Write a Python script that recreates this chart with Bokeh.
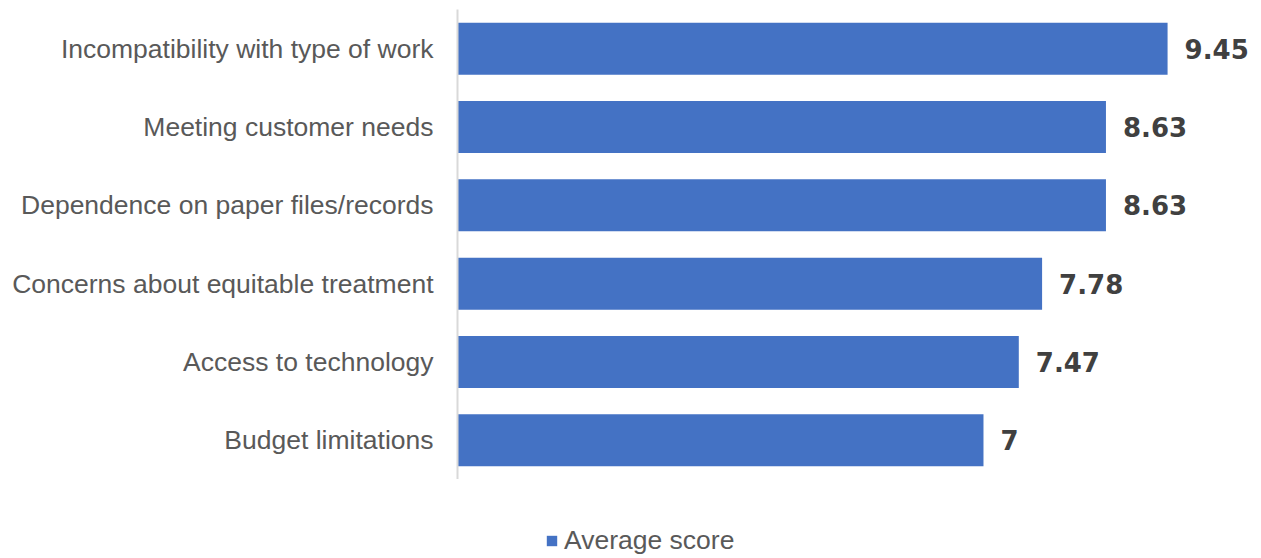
from bokeh.plotting import figure
from bokeh.layouts import column
from bokeh.models import ColumnDataSource, FactorRange, Range1d, Legend, LegendItem
from bokeh.core.properties import value
from bokeh.embed import file_html
from bokeh.resources import INLINE

categories = [
    "Incompatibility with type of work",
    "Meeting customer needs",
    "Dependence on paper files/records",
    "Concerns about equitable treatment",
    "Access to technology",
    "Budget limitations",
]
scores = [9.45, 8.63, 8.63, 7.78, 7.47, 7]
score_labels = ["9.45", "8.63", "8.63", "7.78", "7.47", "7"]
series_name = "Average score"

BAR = "#4472C4"
src = ColumnDataSource(dict(cat=categories, val=scores, lab=score_labels))

p = figure(
    width=1261, height=479,
    y_range=FactorRange(factors=list(reversed(categories)), range_padding=0),
    x_range=Range1d(0, 10.7),
    output_backend="svg", toolbar_location=None,
    min_border_left=457, min_border_right=0, min_border_top=9, min_border_bottom=0,
)
p.outline_line_color = None
p.xgrid.visible = False
p.ygrid.visible = False
p.xaxis.visible = False

p.hbar(y="cat", right="val", left=0, height=0.664, source=src,
       fill_color=BAR, line_color=None)

p.text(x="val", y="cat", text="lab", source=src, x_offset=17,
       text_baseline="middle", text_align="left",
       text_font=value("DejaVu Sans"), text_font_style="bold",
       text_font_size="26px", text_color="#404040")

ya = p.yaxis[0]
ya.axis_line_color = "#d9d9d9"
ya.axis_line_width = 2
ya.major_tick_line_color = None
ya.minor_tick_line_color = None
ya.major_tick_out = 0
ya.major_tick_in = 0
ya.major_label_standoff = 24
ya.major_label_text_font = "Liberation Sans"
ya.major_label_text_font_size = "26.5px"
ya.major_label_text_color = "#595959"

# legend strip below the chart (proxy renderer with zero-height bars, only its legend swatch shows)
p2 = figure(
    width=1261, height=79,
    y_range=FactorRange(factors=list(reversed(categories))),
    x_range=Range1d(0, 10.7),
    x_axis_type=None, y_axis_type=None,
    output_backend="svg", toolbar_location=None,
    min_border_left=457, min_border_right=0, min_border_top=0, min_border_bottom=0,
)
p2.outline_line_color = None
p2.grid.visible = False
proxy = p2.hbar(y="cat", right="val", left=0, height=0, source=src,
                fill_color=BAR, line_color=None)

legend = Legend(items=[LegendItem(label=series_name, renderers=[proxy])],
                location=(88, 2), orientation="horizontal",
                label_text_font="Liberation Sans", label_text_font_size="26.5px",
                label_text_color="#595959", glyph_width=13, glyph_height=13,
                label_standoff=6, padding=0, margin=0, border_line_color=None,
                background_fill_alpha=0)
p2.add_layout(legend, "center")

layout = column(p, p2, spacing=0)
open("out.html", "w").write(file_html(layout, INLINE))
